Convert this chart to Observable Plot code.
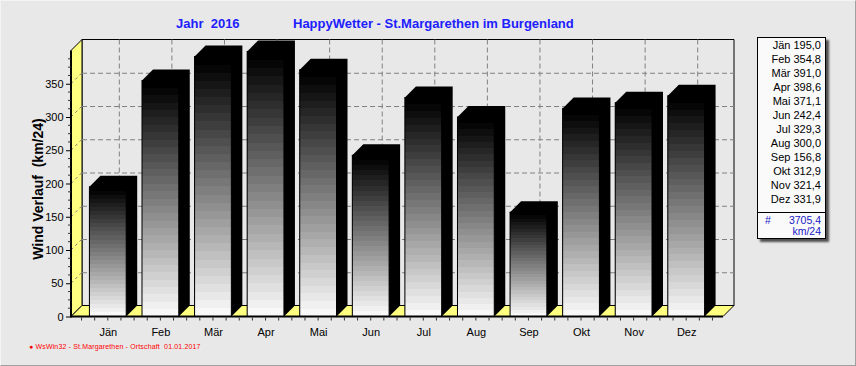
<!DOCTYPE html>
<html><head><meta charset="utf-8">
<script src="https://cdn.jsdelivr.net/npm/d3@7"></script>
<script src="https://cdn.jsdelivr.net/npm/@observablehq/plot@0.6"></script>
<style>
html,body{margin:0;padding:0;background:#e8e8e8;}
#wrap{position:relative;width:856px;height:366px;background:#e8e8e8;overflow:hidden;font-family:"Liberation Sans",Arial,sans-serif;}
#frame{position:absolute;left:0;top:0;width:854px;height:364px;border-right:1px solid #a0a0a0;border-bottom:1px solid #a0a0a0;border-top:1px solid #f4f4f4;border-left:1px solid #f4f4f4;box-sizing:content-box;pointer-events:none;}
#chart{position:absolute;left:0;top:0;}
.t{position:absolute;white-space:pre;line-height:1;}
.title{color:#2020ff;font-weight:bold;font-size:13px;}
#ylab{font-weight:bold;font-size:14px;color:#000;transform:translate(-50%,-50%) rotate(-90deg);}
#legend{position:absolute;left:757px;top:37px;width:67px;height:200px;border:1px solid #000;background:#fafafa;box-shadow:3px 3px 2px #505050;}
#legend .row{position:absolute;right:4px;font-size:11px;line-height:1;white-space:pre;color:#000;}
#legend .sum{color:#1818c8;font-size:10.5px;}
#sep{position:absolute;left:0;right:0;top:173.5px;height:1px;background:#000;}
#footer{color:#ff0000;font-size:7px;letter-spacing:0.15px;}
</style></head><body>
<div id="wrap">
  <div id="chart"></div>
  <div class="t title" id="t1" style="left:176px;top:17px"></div>
  <div class="t title" id="t2" style="left:293px;top:17px"></div>
  <div class="t" id="ylab" style="left:38px;top:189px"></div>
  <div id="legend"><div id="sep"></div></div>
  <div class="t" id="footer" style="left:29px;top:343px"></div>
  <div id="frame"></div>
</div>
<script>
// ---- data ----
const months = ["Jän","Feb","Mär","Apr","Mai","Jun","Jul","Aug","Sep","Okt","Nov","Dez"];
const values = [195.0, 354.8, 391.0, 398.6, 371.1, 242.4, 329.3, 300.0, 156.8, 312.9, 321.4, 331.9];
const legendLabels = ["195,0","354,8","391,0","398,6","371,1","242,4","329,3","300,0","156,8","312,9","321,4","331,9"];
const totalLabel = "3705,4";
const unitLabel = "km/24";
const yTicks = [0, 50, 100, 150, 200, 250, 300, 350];
const yMax = 400;
const titleYear = "Jahr  2016";
const titleMain = "HappyWetter - St.Margarethen im Burgenland";
const yLabel = "Wind Verlauf  (km/24)";
const footerText = "● WsWin32 - St.Margarethen - Ortschaft  01.01.2017";

const data = months.map((m, i) => ({month: m, value: values[i]}));

// ---- style constants ----
const D = 11;          // 3D depth in px
const INSET = 7.9;     // bar inset within band
const WALL = "#ffff80";
const GRID = "#808080";

function bw(x) { return x.bandwidth ? x.bandwidth() : 0; }

function scene(index, scales, vals, dim) {
  const {x, y} = scales;
  const x0 = dim.marginLeft, x1 = dim.width - dim.marginRight;
  const yb = y(0), yt = y(yMax);
  const g = d3.create("svg:g");
  const lg = g.append("defs").append("linearGradient")
    .attr("id", "barGrad").attr("x1", 0).attr("y1", 0).attr("x2", 0).attr("y2", 1);
  const N = 32;
  for (let i = 0; i < N; i++) {
    const l = Math.round(i === 0 ? 0 : 6 + (i - 1) * 242 / (N - 2));
    const c = d3.rgb(l, l, l).formatHex();
    lg.append("stop").attr("offset", i / N).attr("stop-color", c);
    lg.append("stop").attr("offset", (i + 1) / N).attr("stop-color", c);
  }
  // back wall outline
  g.append("path").attr("d", `M${x0 + D},${yb - D}V${yt - D}H${x1 + D}V${yb - D}`)
    .attr("fill", "none").attr("stroke", "black");
  // left wall
  g.append("path").attr("d", `M${x0},${yb}L${x0 + D},${yb - D}V${yt - D}L${x0},${yt}Z`)
    .attr("fill", WALL).attr("stroke", "black");
  // floor
  g.append("path").attr("d", `M${x0},${yb}L${x0 + D},${yb - D}H${x1 + D}L${x1},${yb}Z`)
    .attr("fill", WALL).attr("stroke", "black");
  // diagonals on left wall
  for (const v of yTicks.slice(1)) {
    g.append("line").attr("x1", x0).attr("y1", y(v)).attr("x2", x0 + D).attr("y2", y(v) - D)
      .attr("stroke", GRID).attr("stroke-dasharray", "3,3");
  }
  return g.node();
}

function boxes(index, scales, vals, dim) {
  const {x, y} = scales;
  const w = bw(x);
  const g = d3.create("svg:g");
  for (const d of data) {
    const xl = x(d.month) + INSET, xr = x(d.month) + w - INSET;
    const yt = y(d.value), yb = y(0);
    g.append("path")
      .attr("d", `M${xl},${yt}L${xl + D},${yt - D}H${xr + D}V${yb - D}L${xr},${yb}H${xl}Z`)
      .attr("fill", "black");
  }
  return g.node();
}

function axesLines(index, scales, vals, dim) {
  const {x, y} = scales;
  const w = bw(x);
  const x0 = dim.marginLeft, x1 = dim.width - dim.marginRight;
  const yb = y(0), yt = y(yMax);
  const g = d3.create("svg:g");
  g.append("line").attr("x1", x0).attr("x2", x0).attr("y1", yt).attr("y2", yb + 1)
    .attr("stroke", "black").attr("stroke-width", 2);
  g.append("line").attr("x1", x0).attr("x2", x1).attr("y1", yb).attr("y2", yb)
    .attr("stroke", "black").attr("stroke-width", 2);
  // x ticks at quarter bands
  const xs = [];
  for (const m of months) for (const f of [0, 0.25, 0.5, 0.75]) xs.push(x(m) + w * f);
  xs.push(x(months[months.length - 1]) + w);
  for (const px of xs) {
    g.append("line").attr("x1", px).attr("x2", px).attr("y1", yb + 1).attr("y2", yb + 4)
      .attr("stroke", "#333");
  }
  // y minor ticks
  for (let v = 12.5; v < yMax; v += 12.5) {
    if (v % 50 === 0) continue;
    g.append("line").attr("x1", x0 - 3).attr("x2", x0).attr("y1", y(v)).attr("y2", y(v))
      .attr("stroke", "#333");
  }
  return g.node();
}

const chart = Plot.plot({
  width: 856, height: 366,
  marginLeft: 71, marginRight: 133, marginTop: 50.5, marginBottom: 49.5,
  style: {background: "transparent", fontFamily: "'Liberation Sans', Arial, sans-serif", fontSize: "11px", color: "black", overflow: "visible"},
  x: {domain: months, paddingInner: 0, paddingOuter: 0.2, align: 0.5, round: false, tickSize: 0, tickPadding: 11, label: null},
  y: {domain: [0, yMax], ticks: yTicks, tickSize: 5, tickPadding: 3, label: null},
  marks: [
    scene,
    Plot.ruleY(yTicks.filter(v => v > 0), {y: d => d, dx: D, dy: -D, stroke: GRID, strokeDasharray: "5,3"}),
    Plot.ruleX(months, {x: d => d, dx: D, dy: -D, stroke: GRID, strokeDasharray: "5,3"}),
    boxes,
    Plot.barY(data, {x: "month", y: "value", fill: "url(#barGrad)", stroke: "black", strokeWidth: 1, insetLeft: INSET, insetRight: INSET}),
    axesLines
  ]
});
document.getElementById("chart").appendChild(chart);

// ---- texts ----
document.getElementById("t1").textContent = titleYear;
document.getElementById("t2").textContent = titleMain;
document.getElementById("ylab").textContent = yLabel;
document.getElementById("footer").textContent = footerText;

const legend = document.getElementById("legend");
months.forEach((m, i) => {
  const r = document.createElement("div");
  r.className = "row";
  r.style.top = (1.5 + i * 14.06) + "px";
  r.textContent = m + " " + legendLabels[i];
  legend.appendChild(r);
});
const hash = document.createElement("div");
hash.className = "row sum"; hash.style.left = "7px"; hash.style.right = "auto"; hash.style.top = "177px";
hash.textContent = "#";
legend.appendChild(hash);
const tot = document.createElement("div");
tot.className = "row sum"; tot.style.top = "177px"; tot.textContent = totalLabel;
legend.appendChild(tot);
const unit = document.createElement("div");
unit.className = "row sum"; unit.style.top = "188px"; unit.textContent = unitLabel;
legend.appendChild(unit);
</script>
</body></html>
